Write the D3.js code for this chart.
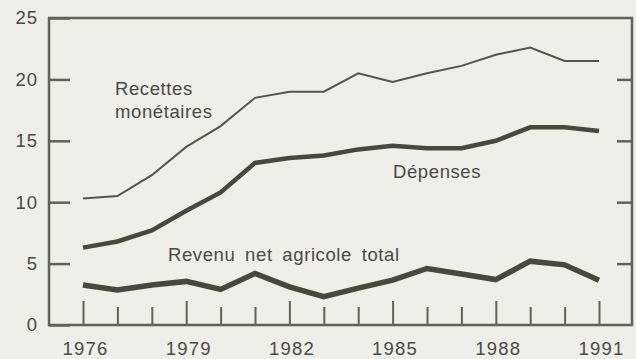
<!DOCTYPE html>
<html>
<head>
<meta charset="utf-8">
<script src="https://cdn.jsdelivr.net/npm/d3@7"></script>
<style>
  body { margin: 0; background: #eeeeea; }
  svg { display: block; }
  .axis path, .axis line { stroke: #62625a; }
  text { font-family: "Liberation Sans", Arial, sans-serif; fill: #4a4a46; }
</style>
</head>
<body>
<svg id="chart"></svg>
<script>
var years = [1976, 1977, 1978, 1979, 1980, 1981, 1982, 1983, 1984, 1985, 1986, 1987, 1988, 1989, 1990, 1991];
var recettes = [10.3, 10.5, 12.2, 14.5, 16.2, 18.5, 19.0, 19.0, 20.5, 19.8, 20.5, 21.1, 22.0, 22.6, 21.5, 21.5];
var depenses = [6.3, 6.8, 7.7, 9.3, 10.8, 13.2, 13.6, 13.8, 14.3, 14.6, 14.4, 14.4, 15.0, 16.1, 16.1, 15.8];
var revenu = [3.25, 2.85, 3.25, 3.55, 2.9, 4.2, 3.1, 2.3, 3.0, 3.65, 4.6, 4.15, 3.7, 5.2, 4.9, 3.65];
var yTicks = [0, 5, 10, 15, 20, 25];
var xLabels = [1976, 1979, 1982, 1985, 1988, 1991];

var config = {
  svgWidth: 636,
  svgHeight: 359,
  frameLeft: 49,
  frameRight: 632,
  frameTop: 18,
  frameBottom: 325,
  fontSize: 18.5
};

var svg = d3.select('#chart')
  .attr('width', config.svgWidth)
  .attr('height', config.svgHeight);

var x = d3.scaleLinear()
  .domain([1976, 1991])
  .range([83, 599]);

var y = d3.scaleLinear()
  .domain([0, 25])
  .range([config.frameBottom, config.frameTop]);

// frame
svg.append('rect')
  .attr('x', config.frameLeft)
  .attr('y', config.frameTop)
  .attr('width', config.frameRight - config.frameLeft)
  .attr('height', config.frameBottom - config.frameTop)
  .attr('fill', 'none')
  .attr('stroke', '#62625a')
  .attr('stroke-width', 2.5);

// left axis, ticks point inward
var left = svg.append('g')
  .attr('class', 'axis')
  .attr('transform', 'translate(' + config.frameLeft + ',0)')
  .call(d3.axisLeft(y).tickValues(yTicks).tickSize(-21).tickPadding(11));
left.select('.domain').remove();
left.selectAll('line').attr('stroke-width', 2.5);
left.selectAll('text')
  .attr('font-size', config.fontSize)
  .attr('letter-spacing', 1)
  .attr('fill', '#4a4a46');

// right axis, no labels
var right = svg.append('g')
  .attr('class', 'axis')
  .attr('transform', 'translate(' + config.frameRight + ',0)')
  .call(d3.axisRight(y).tickValues([5, 10, 15, 20]).tickSize(-15).tickFormat(''));
right.select('.domain').remove();
right.selectAll('line').attr('stroke-width', 2.5);

// bottom axis, ticks point up, longer every third year
var bottom = svg.append('g')
  .attr('class', 'axis')
  .attr('transform', 'translate(0,' + config.frameBottom + ')')
  .call(d3.axisBottom(x).tickValues(years).tickSize(-18).tickPadding(0)
    .tickFormat(function(d) { return xLabels.indexOf(d) >= 0 ? d : ''; }));
bottom.select('.domain').remove();
bottom.selectAll('line')
  .attr('stroke-width', 2)
  .attr('y2', function(d) { return xLabels.indexOf(d) >= 0 ? -24 : -18; });
bottom.selectAll('text')
  .attr('y', 30)
  .attr('dy', 0)
  .attr('dx', 2)
  .attr('font-size', config.fontSize)
  .attr('letter-spacing', 1.2)
  .attr('fill', '#4a4a46');

var line = d3.line()
  .x(function(d, i) { return x(years[i]); })
  .y(function(d) { return y(d); });

svg.append('path')
  .attr('d', line(recettes))
  .attr('fill', 'none')
  .attr('stroke', '#55554f')
  .attr('stroke-width', 2);

svg.append('path')
  .attr('d', line(depenses))
  .attr('fill', 'none')
  .attr('stroke', '#48483f')
  .attr('stroke-width', 4.5);

svg.append('path')
  .attr('d', line(revenu))
  .attr('fill', 'none')
  .attr('stroke', '#48483f')
  .attr('stroke-width', 5.5)
  .attr('stroke-linejoin', 'miter');

// series labels
var labels = [
  { text: 'Recettes', x: 115, y: 95, ws: 0 },
  { text: 'monétaires', x: 115, y: 118, ws: 0 },
  { text: 'Dépenses', x: 393, y: 178, ws: 0 },
  { text: 'Revenu net agricole total', x: 168, y: 261, ws: 4 }
];
svg.selectAll('.series-label')
  .data(labels)
  .enter()
  .append('text')
  .attr('class', 'series-label')
  .attr('x', function(d) { return d.x; })
  .attr('y', function(d) { return d.y; })
  .attr('font-size', config.fontSize)
  .attr('letter-spacing', 0.6)
  .attr('word-spacing', function(d) { return d.ws; })
  .text(function(d) { return d.text; });
</script>
</body>
</html>
